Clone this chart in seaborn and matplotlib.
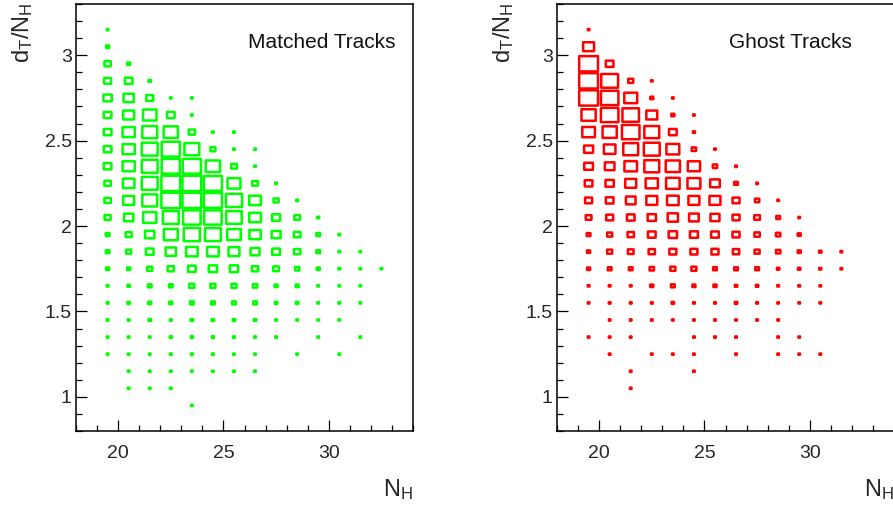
import numpy as np
import pandas as pd
import matplotlib
matplotlib.use("Agg")
import matplotlib.pyplot as plt
import seaborn as sns
from matplotlib.path import Path
from matplotlib.ticker import MultipleLocator

# bin centres
n_hits = [19.5, 20.5, 21.5, 22.5, 23.5, 24.5, 25.5, 26.5, 27.5, 28.5, 29.5, 30.5, 31.5, 32.5]
dt_rows = [3.15, 3.05, 2.95, 2.85, 2.75, 2.65, 2.55, 2.45, 2.35, 2.25, 2.15, 2.05,
           1.95, 1.85, 1.75, 1.65, 1.55, 1.45, 1.35, 1.25, 1.15, 1.05, 0.95]

# relative bin content (box side, 64 = full bin), one list per row starting at N_H = 19.5
matched = [
    [8],
    [16],
    [26, 16],
    [28, 30, 14],
    [32, 38, 28, 10, 10],
    [30, 40, 48, 30, 10],
    [30, 44, 52, 50, 26, 10, 8],
    [30, 44, 55, 62, 52, 22, 10, 9],
    [30, 44, 55, 62, 62, 50, 24, 10],
    [26, 42, 55, 64, 64, 62, 46, 24, 12],
    [26, 40, 52, 64, 64, 62, 56, 42, 22, 12],
    [25, 35, 47, 55, 60, 60, 54, 42, 31, 24, 13],
    [18, 25, 35, 49, 56, 55, 48, 41, 34, 27, 18, 12],
    [18, 22, 30, 38, 42, 42, 40, 34, 30, 26, 18, 12, 8],
    [16, 16, 22, 26, 30, 32, 32, 26, 24, 20, 16, 12, 10, 10],
    [12, 14, 18, 18, 22, 22, 22, 20, 16, 16, 12, 10, 10],
    [12, 14, 16, 16, 18, 18, 18, 18, 14, 14, 12, 12, 10],
    [12, 12, 14, 12, 14, 14, 14, 14, 10, 10, 10, 10],
    [10, 10, 10, 13, 13, 13, 12, 12, 10, 0, 10, 0, 10],
    [10, 10, 10, 12, 12, 12, 10, 10, 0, 10, 0, 10],
    [0, 10, 10, 10, 10, 10, 10, 10],
    [0, 10, 10, 10],
    [0, 0, 0, 0, 8],
]

ghost = [
    [10],
    [40],
    [64, 30],
    [64, 58, 22, 8],
    [64, 60, 46, 16, 10],
    [50, 60, 57, 40, 16, 10],
    [45, 50, 60, 52, 30, 13],
    [34, 42, 52, 55, 46, 20, 10],
    [33, 36, 45, 52, 50, 44, 20, 12],
    [30, 32, 40, 44, 48, 46, 36, 18, 10],
    [28, 30, 36, 40, 42, 40, 40, 28, 20, 10],
    [24, 28, 30, 32, 38, 36, 34, 28, 24, 18, 10],
    [18, 22, 26, 30, 32, 31, 30, 28, 23, 20, 16],
    [16, 22, 24, 26, 28, 28, 28, 26, 22, 20, 16, 14, 12],
    [16, 18, 18, 20, 22, 22, 18, 18, 18, 14, 14, 13, 12],
    [12, 12, 12, 16, 18, 16, 16, 14, 14, 12, 12, 10],
    [10, 12, 12, 12, 14, 12, 12, 14, 12, 10, 10, 10],
    [0, 10, 10, 10, 10, 10, 10, 10, 10, 9],
    [9, 10, 10, 0, 0, 10, 9, 9, 0, 9, 9],
    [0, 10, 0, 10, 9, 9, 0, 9, 0, 10, 9, 9],
    [0, 0, 9, 0, 0, 9],
    [0, 0, 9],
]

titles = ["Matched Tracks", "Ghost Tracks"]
colors = ["#00ff00", "#ff0000"]

LW_PT = 1.8
LW_PX = LW_PT / 0.72


def to_frame(rows):
    recs = []
    for y, vals in zip(dt_rows, rows):
        for x, v in zip(n_hits, vals):
            if v > 0:
                recs.append((x, y, v))
    df = pd.DataFrame(recs, columns=["nh", "dt", "content"])
    # box side in points (outer size minus stroke), marker area in pt^2
    side_px = np.maximum(df["content"] / 64 * 21.0 - LW_PX + 0.3, 1.6)
    df["area"] = (side_px * 0.72) ** 2
    return df


sns.set_theme(style="ticks")
plt.rcParams["font.family"] = ["Liberation Sans", "DejaVu Sans"]
plt.rcParams["mathtext.fontset"] = "custom"
plt.rcParams["mathtext.rm"] = "Liberation Sans"
plt.rcParams["mathtext.it"] = "Liberation Sans"

W, H = 893, 509
fig = plt.figure(figsize=(W / 100, H / 100), dpi=100)
ax_l = fig.add_axes([76 / W, (H - 431) / H, 337 / W, 427 / H])
ax_r = fig.add_axes([557 / W, (H - 431) / H, 337 / W, 427 / H])

h = 0.5 * 17.1 / 21
box = Path([(-0.5, -h), (0.5, -h), (0.5, h), (-0.5, h), (-0.5, -h)],
           [Path.MOVETO, Path.LINETO, Path.LINETO, Path.LINETO, Path.CLOSEPOLY])

for ax, rows, title, col in zip([ax_l, ax_r], [matched, ghost], titles, colors):
    df = to_frame(rows)
    sns.scatterplot(data=df, x="nh", y="dt", size="area",
                    sizes=(df["area"].min(), df["area"].max()),
                    marker=box, color=col, facecolor="none", edgecolor=col,
                    linewidth=LW_PT, snap=False, legend=False, ax=ax)
    ax.set_xlim(18, 34)
    ax.set_ylim(0.8, 3.3)
    ax.set_xticks([20, 25, 30])
    ax.set_yticks([1, 1.5, 2, 2.5, 3])
    ax.set_xticklabels(["20", "25", "30"])
    ax.set_yticklabels(["1", "1.5", "2", "2.5", "3"])
    ax.xaxis.set_minor_locator(MultipleLocator(1))
    ax.yaxis.set_minor_locator(MultipleLocator(0.1))
    ax.tick_params(which="both", direction="in", color="black", width=0.9,
                   top=False, right=False)
    ax.tick_params(which="major", length=8)
    ax.tick_params(which="minor", length=4.2)
    ax.tick_params(axis="x", which="major", labelsize=14, pad=10)
    ax.tick_params(axis="y", which="major", labelsize=14, pad=3)
    for s in ax.spines.values():
        s.set_linewidth(1.1)
        s.set_color("black")
    ax.set_xlabel("")
    ax.set_ylabel("")
    ax.text(0.51, 0.897, title, transform=ax.transAxes, ha="left",
            va="baseline", fontsize=15, color="#111111")
    ax.text(-0.16, 1.003, r"$\mathrm{d_{T}/N_{H}}$", transform=ax.transAxes,
            rotation=90, ha="center", va="top", fontsize=17)
    ax.text(1.0, -0.108, r"$\mathrm{N_{H}}$", transform=ax.transAxes,
            ha="right", va="top", fontsize=17)

ax_r.spines["right"].set_visible(False)

fig.savefig("out.png", dpi=100)
